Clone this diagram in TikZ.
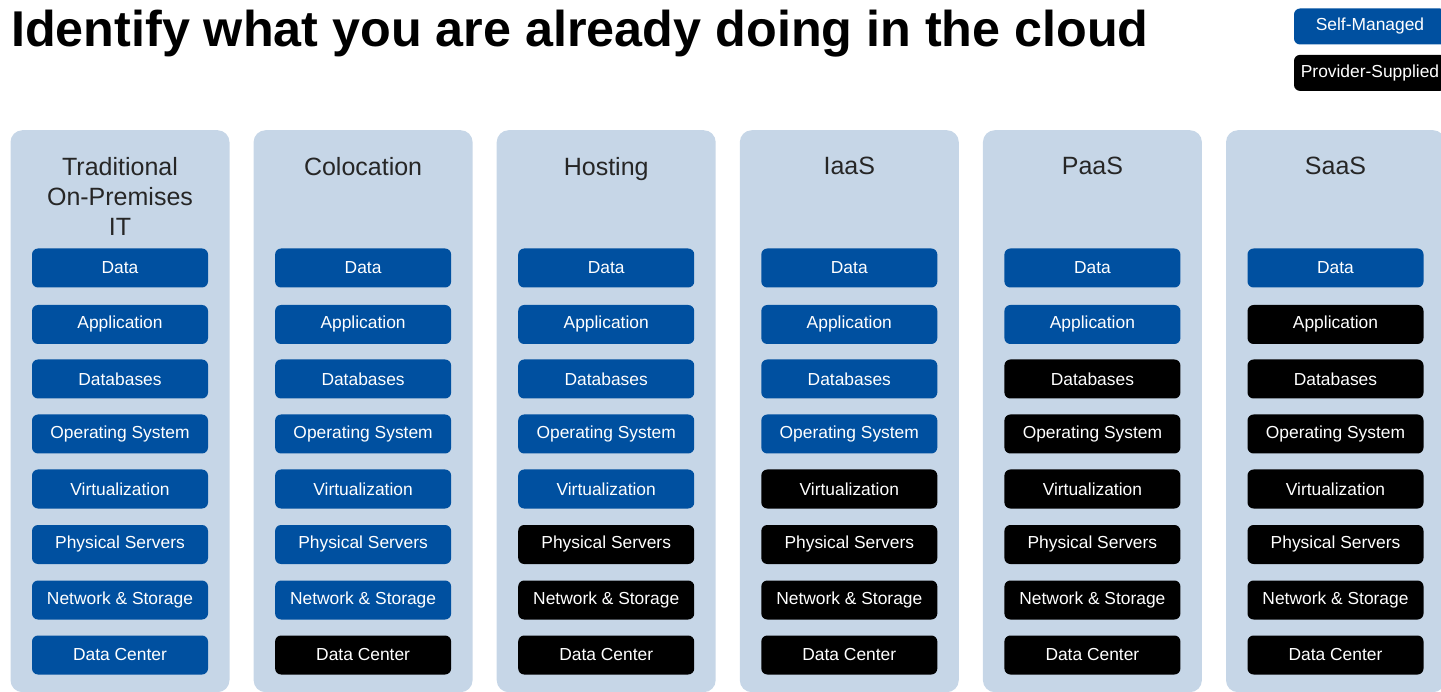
\documentclass[tikz,border=0pt]{standalone}
\usepackage{fontspec}
\setmainfont{Liberation Sans}
\usetikzlibrary{positioning}
\definecolor{selfblue}{RGB}{0,80,160}
\definecolor{panelblue}{RGB}{198,214,231}
\tikzset{%
	panel/.style    = {fill=panelblue, rounded corners=12pt, minimum width=219pt, minimum height=562pt, anchor=north},
	heading/.style  = {align=center, inner sep=0pt, anchor=north, text=black!85, font=\fontsize{25}{30}\selectfont},
	layer/.style    = {fill=selfblue, text=white, rounded corners=6pt, minimum width=176pt, minimum height=39pt, font=\fontsize{17.4}{19}\selectfont},
	supplied/.style = {layer, fill=black}, % Provider-supplied layer
	legend/.style   = {minimum width=152pt, minimum height=36pt, inner xsep=2pt, font=\fontsize{17.4}{19}\selectfont},
}

\begin{document}
\begin{tikzpicture}[x=1pt,y=-1pt,node distance=10pt]
	\useasboundingbox (0,0) rectangle (1441,692);
	\node [anchor=base west,inner sep=0pt,font=\bfseries\fontsize{50.3}{60}\selectfont] (title) at (11,47) {Identify what you are already doing in the cloud};
	\node [layer,legend] (self) at (1370,26.5) {Self-Managed};
	\node [supplied,legend] (prov) [below=of self] {Provider-Supplied};
	
	% one column per delivery model, \own = layers still self-managed
	\foreach \name/\head/\own [count=\i] in {trad/{Traditional\\On-Premises\\IT}/8, colo/Colocation/7, host/Hosting/5, iaas/IaaS/4, paas/PaaS/2, saas/SaaS/1} {
		\node [panel] (\name) at ({120+243.1*(\i-1)},130) {};
		\node [heading] (\name-h) at ({120+243.1*(\i-1)},157) {\head};
		\foreach \lbl/\ly [count=\k] in {Data/268,Application/324.5,Databases/379,Operating System/434,Virtualization/489,Physical Servers/544.5,Network \& Storage/600,Data Center/655} {
			\ifnum\k>\own \def\boxcol{black}\else\def\boxcol{selfblue}\fi
			\node [layer,fill=\boxcol] (\name-\k) at ({120+243.1*(\i-1)},\ly) {\lbl};
		}
	}
\end{tikzpicture}
\end{document}
